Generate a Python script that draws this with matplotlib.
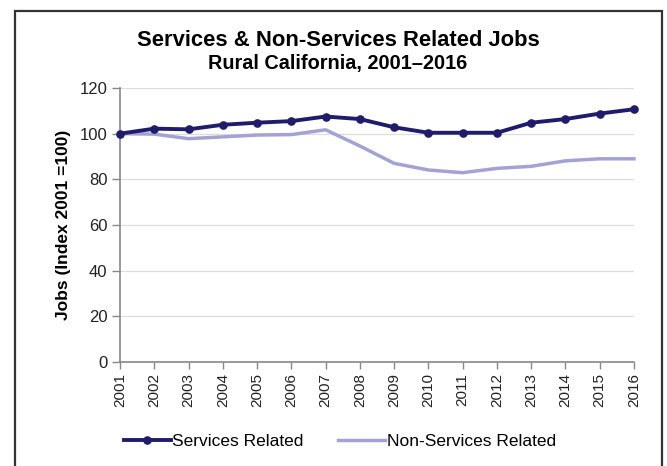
import matplotlib
matplotlib.use("Agg")
import matplotlib.pyplot as plt
from matplotlib.patches import Rectangle

years = list(range(2001, 2017))
services = [100, 102.2, 101.9, 103.9, 104.8, 105.5, 107.5, 106.4, 102.8, 100.4, 100.4, 100.4, 104.8, 106.4, 108.8, 110.7]
non_services = [100, 99.8, 97.8, 98.6, 99.4, 99.6, 101.7, 94.6, 87.0, 84.1, 82.9, 84.8, 85.7, 88.1, 89.0, 89.0]
yticks = [0, 20, 40, 60, 80, 100, 120]

plt.rcParams['font.family'] = ['Liberation Sans', 'DejaVu Sans']

W, H = 667, 466
fig = plt.figure(figsize=(W/100, H/100), dpi=100)
fig.patch.set_facecolor('white')

# outer frame
fig.add_artist(Rectangle((15/W, -0.05), (662-15)/W, (H-11)/H + 0.05, transform=fig.transFigure,
                         fill=False, edgecolor='#333333', linewidth=1.6))

left, right, top, bottom = 120, 634, 88, 362
ax = fig.add_axes([left/W, 1-bottom/H, (right-left)/W, (bottom-top)/H])

navy = '#1f1d6b'
lav = '#a3a2d4'
ax.plot(years, non_services, color=lav, linewidth=2.5, label='Non-Services Related', zorder=3, clip_on=False)
ax.plot(years, services, color=navy, linewidth=2.8, marker='o', markersize=5.2, label='Services Related', zorder=4, clip_on=False)

ax.set_xlim(2001, 2016)
ax.set_ylim(0, 120)
ax.set_yticks(yticks)
ax.set_xticks(years)
ax.set_xticklabels([str(y) for y in years], rotation=90, fontsize=11, color='#222222')
ax.tick_params(axis='y', labelsize=12, colors='#888888', labelcolor='#222222', length=6, width=1, direction='out', pad=3)
ax.tick_params(axis='x', colors='#888888', labelcolor='#222222', length=5, width=1, direction='out', pad=3)
ax.grid(axis='y', color='#dddddd', linewidth=0.9)
ax.set_axisbelow(True)
for s in ['top', 'right']:
    ax.spines[s].set_visible(False)
for s in ['left', 'bottom']:
    ax.spines[s].set_color('#888888')
    ax.spines[s].set_linewidth(1.2)

ax.set_ylabel('Jobs (Index 2001 =100)', fontsize=12.5, fontweight='bold', labelpad=6)

fig.text(338/W, 1-40/H, 'Services & Non-Services Related Jobs', ha='center', va='center',
         fontsize=15.8, fontweight='bold')
fig.text(338/W, 1-63/H, 'Rural California, 2001\u20132016', ha='center', va='center',
         fontsize=14.3, fontweight='bold')

h, l = ax.get_legend_handles_labels()
leg = fig.legend([h[1], h[0]], [l[1], l[0]], loc='center', bbox_to_anchor=(340/W, 1-441/H),
                 ncol=2, frameon=False, fontsize=12.5, handlelength=2.7, handletextpad=0.1,
                 columnspacing=2.0)

fig.savefig('out.png', dpi=100)
